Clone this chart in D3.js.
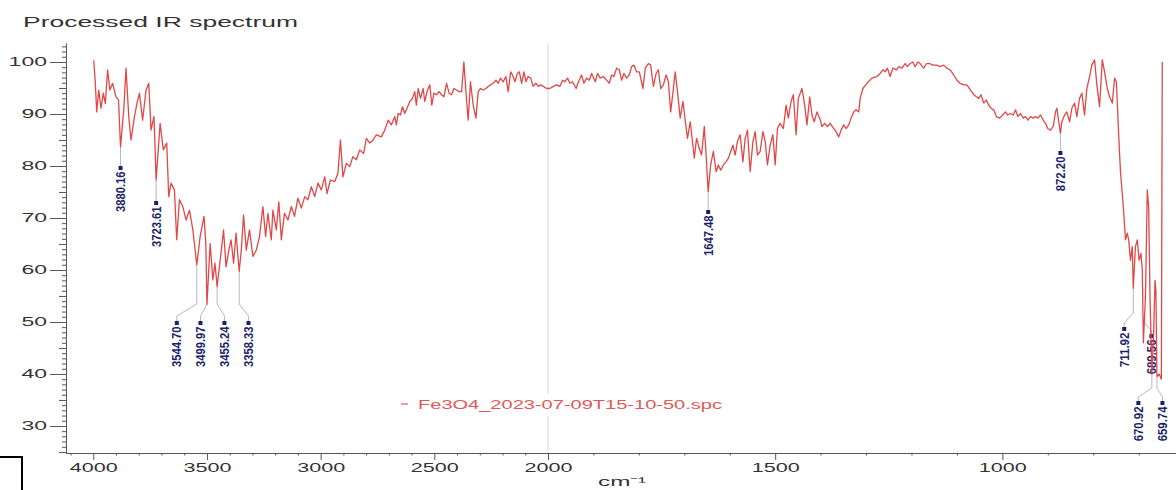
<!DOCTYPE html>
<html>
<head>
<meta charset="utf-8">
<script src="https://cdn.jsdelivr.net/npm/d3@7"></script>
<style>
    html, body { margin: 0; padding: 0; background: #fff; }
    svg { display: block; font-family: 'Liberation Sans', Arial, sans-serif; }
</style>
</head>
<body>
<div id="chart"></div>
<script>
// Spectrum: wavenumber (cm-1) and transmittance (%)
const wavenumbers = [
    // 4000 - 2700
    3998, 3991, 3985, 3976, 3966, 3956, 3947, 3937, 3927, 3915,
    3900, 3889, 3880.16, 3866, 3856, 3844, 3834, 3819, 3808, 3797,
    3783, 3768, 3756, 3746, 3733, 3723.61, 3706, 3692, 3677, 3668,
    3658, 3643, 3633, 3621, 3606, 3592, 3577, 3562, 3552, 3544.70,
    3530, 3513, 3505, 3499.97, 3486, 3474, 3465, 3455.24, 3440, 3427,
    3416, 3404, 3394, 3383, 3372, 3358.33, 3349, 3339, 3327, 3313,
    3298, 3283, 3269, 3254, 3242, 3232, 3217, 3210, 3195, 3184,
    3173, 3159, 3144, 3129, 3115, 3100, 3085, 3070, 3056, 3041,
    3026, 3012, 2997, 2982, 2972, 2957, 2938, 2924, 2913, 2902,
    2887, 2872, 2858, 2843, 2828, 2811, 2799, 2784, 2769, 2755,
    2733, 2718, 2703,
    // 2700 - 1490
    2689, 2674, 2667, 2659, 2649, 2640, 2630, 2620, 2608, 2596,
    2586, 2579, 2571, 2561, 2549, 2542, 2532, 2520, 2511, 2502,
    2490, 2479, 2468, 2458, 2446, 2435, 2424, 2414, 2402, 2391,
    2380, 2370, 2361, 2351, 2341, 2329, 2317, 2307, 2297, 2285,
    2273, 2263, 2253, 2241, 2229, 2219, 2209, 2197, 2185, 2175,
    2164, 2156, 2145, 2135, 2126, 2116, 2106, 2097, 2087, 2076,
    2065, 2053, 2043, 2032, 2021, 2006, 1996, 1988, 1981, 1974,
    1968, 1963, 1957, 1952, 1946, 1938, 1933, 1926, 1921, 1915,
    1909, 1904, 1896, 1891, 1885, 1878, 1871, 1865, 1860, 1855,
    1849, 1843, 1838, 1833, 1827, 1821, 1816, 1811, 1805, 1799,
    1791, 1786, 1779, 1774, 1768, 1762, 1757, 1752, 1746, 1740,
    1735, 1730, 1724, 1720, 1715, 1709, 1703, 1698, 1693, 1687,
    1682, 1678, 1673, 1667, 1662, 1656, 1652, 1647.48, 1642, 1636,
    1630, 1625, 1620, 1614, 1608, 1603, 1598, 1593, 1588, 1583,
    1577, 1571, 1566, 1561, 1555, 1549, 1544, 1539, 1533, 1527,
    1522, 1517, 1511, 1505, 1500, 1495, 1489,
    // 1490 - 648
    1485, 1482, 1476, 1471, 1465, 1460, 1454, 1449, 1441, 1435,
    1430, 1424, 1419, 1414, 1408, 1402, 1397, 1391, 1385, 1379,
    1371, 1366, 1360, 1355, 1349, 1344, 1338, 1333, 1327, 1322,
    1316, 1313, 1307, 1298, 1287, 1276, 1269, 1263, 1258, 1253,
    1247, 1241, 1233, 1228, 1221, 1214, 1209, 1203, 1197, 1192,
    1186, 1181, 1173, 1167, 1160, 1153, 1144, 1137, 1129, 1122,
    1115, 1107, 1100, 1093, 1085, 1078, 1070, 1063, 1057, 1052,
    1047, 1041, 1035, 1030, 1025, 1019, 1013, 1006, 999, 993,
    988, 982, 976, 971, 966, 960, 954, 949, 944, 938,
    932, 927, 922, 916, 910, 905, 900, 894, 888, 883,
    880, 872.20, 869, 863, 858, 852, 847, 841, 836, 830,
    825, 819, 814, 808, 803, 797, 792, 786, 780, 775,
    769, 764, 758, 753, 749, 744, 740, 734, 729, 725,
    722, 718, 714, 711.92, 707, 703, 699, 695, 692, 689.56,
    685, 681, 678, 675, 670.92, 667, 664, 662, 659.74, 655,
    650, 648
];
const transmittance = [
    100.3, 95.9, 90.4, 94.6, 91.1, 94.0, 92.0, 98.5, 94.6, 95.9,
    93.3, 92.7, 83.7, 90.8, 98.8, 89.5, 85.0, 89.5, 92.0, 94.0,
    88.8, 94.6, 95.9, 86.9, 89.5, 77.3, 88.2, 83.1, 84.4, 74.1,
    76.7, 75.4, 65.8, 73.5, 72.2, 69.6, 71.5, 67.7, 63.8, 61.0,
    66.4, 70.3, 65.1, 53.4, 65.1, 58.1, 61.3, 56.8, 62.6, 67.7,
    60.6, 63.8, 65.8, 61.3, 67.1, 59.7, 63.8, 70.6, 63.8, 67.7,
    62.6, 63.8, 66.4, 72.2, 66.4, 70.9, 65.8, 71.5, 67.7, 73.1,
    65.8, 70.9, 69.6, 72.2, 70.3, 73.8, 71.9, 74.1, 73.5, 76.0,
    74.1, 76.7, 75.4, 77.9, 74.7, 77.3, 77.0, 78.6, 85.0, 77.9,
    80.5, 79.9, 81.8, 81.2, 83.1, 82.4, 85.3, 84.4, 85.0, 86.0,
    85.6, 86.9, 88.8,
    87.9, 89.5, 87.9, 90.1, 89.8, 91.4, 90.1, 91.1, 92.4, 93.0,
    94.3, 91.7, 94.9, 93.0, 94.9, 92.4, 94.3, 95.6, 91.7, 94.0,
    93.7, 94.3, 93.7, 93.3, 95.9, 94.0, 93.7, 94.9, 94.6, 94.3,
    94.3, 100.0, 94.3, 88.8, 96.2, 91.7, 89.2, 94.3, 94.9, 94.6,
    94.9, 95.3, 95.6, 95.9, 96.5, 95.9, 96.9, 96.2, 97.2, 94.3,
    98.1, 97.5, 96.2, 97.8, 98.1, 95.9, 98.1, 96.2, 97.2, 96.9,
    95.3, 95.9, 95.3, 95.6, 95.3, 94.9, 94.9, 95.3, 95.6, 95.3,
    96.5, 96.2, 96.9, 95.9, 96.2, 94.9, 96.2, 97.5, 95.9, 96.9,
    96.5, 97.8, 96.2, 97.8, 96.9, 97.2, 96.5, 95.9, 97.5, 97.2,
    98.8, 98.5, 96.5, 97.8, 96.9, 97.5, 99.1, 99.4, 98.1, 98.1,
    94.9, 98.8, 99.7, 99.4, 95.3, 97.8, 98.5, 94.9, 95.6, 97.5,
    96.2, 90.4, 94.9, 98.1, 94.3, 89.2, 92.4, 88.8, 85.3, 88.5,
    84.7, 81.5, 85.3, 83.4, 82.1, 87.6, 82.1, 75.1, 80.2, 82.8,
    78.9, 80.2, 79.2, 80.2, 80.8, 81.5, 82.8, 84.0, 82.1, 84.7,
    86.0, 80.8, 85.3, 86.9, 78.9, 84.7, 86.6, 82.1, 82.8, 86.6,
    84.7, 80.2, 84.0, 86.0, 80.2, 87.2, 88.2,
    87.6, 87.2, 91.7, 89.2, 92.4, 93.7, 86.0, 93.0, 94.9, 91.7,
    87.9, 93.3, 89.8, 88.5, 90.4, 89.2, 87.6, 88.2, 87.6, 88.2,
    87.2, 86.6, 85.6, 86.9, 87.9, 87.2, 87.9, 89.2, 90.4, 90.8,
    90.4, 93.0, 94.9, 95.9, 96.9, 97.2, 97.8, 98.5, 98.1, 98.8,
    97.2, 98.8, 98.5, 99.1, 98.8, 99.7, 99.1, 99.7, 100.0, 99.1,
    100.0, 99.7, 98.8, 99.7, 99.7, 99.4, 99.4, 99.1, 99.4, 98.8,
    98.5, 97.5, 96.5, 95.9, 95.6, 95.6, 94.6, 93.7, 93.3, 93.0,
    93.7, 92.1, 92.7, 91.7, 91.1, 90.8, 89.5, 89.2, 89.8, 90.4,
    89.8, 90.1, 89.8, 90.8, 89.5, 90.1, 89.2, 89.5, 88.8, 89.5,
    89.2, 89.5, 89.2, 89.8, 88.8, 88.2, 87.2, 86.9, 87.6, 90.4,
    91.1, 86.3, 88.5, 89.8, 90.4, 88.5, 91.1, 92.1, 89.5, 93.0,
    94.0, 89.8, 94.9, 97.2, 99.4, 100.4, 95.6, 91.4, 100.4, 98.1,
    94.9, 93.3, 92.1, 96.9, 96.2, 86.0, 78.9, 72.5, 65.8, 67.1,
    65.8, 61.9, 64.5, 56.5, 64.5, 65.8, 61.9, 63.2, 60.0, 46.0,
    55.0, 75.4, 72.2, 55.0, 40.0, 48.0, 58.0, 56.0, 39.5, 40.0,
    39.0, 100.0
];
const peakWavenumbers = [3880.16, 3723.61, 3544.70, 3499.97, 3455.24, 3358.33,
    1647.48, 872.20, 711.92, 689.56, 670.92, 659.74];
const xTickValues = [4000, 3500, 3000, 2500, 2000, 1500, 1000];
const yTickValues = [30, 40, 50, 60, 70, 80, 90, 100];
const chartTitle = 'Processed IR spectrum';
const seriesName = 'Fe3O4_2023-07-09T15-10-50.spc';
const xAxisTitle = 'cm\u207B\u00B9';

// Where each peak label sits: shift from the peak, leader bend rows, top of label
const peakLabelLayout = [
    { dx: 0, elbow: 163, bend: 163, top: 166 },
    { dx: 0, elbow: 198, bend: 198, top: 201 },
    { dx: -20, elbow: 304, bend: 316, top: 321 },
    { dx: -6.5, elbow: 304, bend: 316, top: 321 },
    { dx: 7.3, elbow: 304, bend: 316, top: 321 },
    { dx: 9.3, elbow: 304, bend: 316, top: 321 },
    { dx: 0, elbow: 207, bend: 207, top: 210 },
    { dx: 0, elbow: 148, bend: 148, top: 151 },
    { dx: -9, elbow: 313, bend: 323, top: 327 },
    { dx: 8, elbow: 321, bend: 331, top: 334 },
    { dx: -13.5, elbow: 388, bend: 397, top: 401 },
    { dx: 5.5, elbow: 388, bend: 397, top: 401 }
];

const width = 1176;
const height = 490;

const svg = d3
    .select('#chart')
    .append('svg')
    .attr('width', width)
    .attr('height', height);

// Scales (axis is compressed 2x above 2000 cm-1)
const xScale = d3.scaleLinear().domain([4120, 2000, 620]).range([66, 548, 1175]);
const yScale = d3.scaleLinear().domain([24.8, 103.65]).range([453, 43]);

const spectrum = wavenumbers.map((wn, i) => ({ wn, t: transmittance[i] }));

// Title
svg.append('text')
    .attr('x', 23)
    .attr('y', 27)
    .attr('font-size', 14)
    .attr('fill', '#333')
    .attr('textLength', 275)
    .attr('lengthAdjust', 'spacingAndGlyphs')
    .text(chartTitle);

// Reference line at 2000
svg.append('line')
    .attr('x1', xScale(2000))
    .attr('x2', xScale(2000))
    .attr('y1', 43)
    .attr('y2', 453)
    .attr('stroke', '#d6d6d6')
    .attr('stroke-width', 1);

// Legend
svg.append('rect')
    .attr('x', 396)
    .attr('y', 394)
    .attr('width', 332)
    .attr('height', 22)
    .attr('fill', '#fff');
svg.append('line')
    .attr('x1', 401)
    .attr('x2', 408)
    .attr('y1', 404)
    .attr('y2', 404)
    .attr('stroke', '#e06060')
    .attr('stroke-width', 1.2);
svg.append('text')
    .attr('x', 418)
    .attr('y', 408.5)
    .attr('font-size', 12)
    .attr('fill', '#e05858')
    .attr('textLength', 304)
    .attr('lengthAdjust', 'spacingAndGlyphs')
    .text(seriesName);

// X axis: major, then minor ticks every 100
const xAxisG = svg.append('g').attr('transform', `translate(0, ${yScale.range()[0]})`);
xAxisG.call(
    d3.axisBottom(xScale)
        .tickValues(xTickValues)
        .tickFormat(d3.format('d'))
        .tickSize(7)
        .tickSizeOuter(0)
        .tickPadding(3)
);
const xMinor = d3.range(4100, 600, -100).filter((v) => !xTickValues.includes(v));
svg.append('g')
    .attr('transform', `translate(0, ${yScale.range()[0]})`)
    .call(d3.axisBottom(xScale).tickValues(xMinor).tickSize(2.5).tickFormat(''))
    .select('.domain')
    .remove();
xAxisG.select('.domain').attr('d', `M66,0.5H1176`);
xAxisG.selectAll('.tick text')
    .attr('font-size', 13)
    .attr('fill', '#333')
    .attr('font-family', "'Liberation Sans', Arial, sans-serif")
    .attr('textLength', 48)
    .attr('lengthAdjust', 'spacingAndGlyphs');

// Y axis: major, every 5, every 1
const yAxisG = svg.append('g').attr('transform', 'translate(66, 0)');
yAxisG.call(d3.axisLeft(yScale).tickValues(yTickValues).tickSize(16).tickSizeOuter(0).tickPadding(3));
const yMid = d3.range(25, 104, 5).filter((v) => v % 10 !== 0);
const yMinor = d3.range(25, 104, 1).filter((v) => v % 5 !== 0);
svg.append('g')
    .attr('transform', 'translate(66, 0)')
    .call(d3.axisLeft(yScale).tickValues(yMid).tickSize(7).tickFormat(''))
    .select('.domain')
    .remove();
svg.append('g')
    .attr('transform', 'translate(66, 0)')
    .call(d3.axisLeft(yScale).tickValues(yMinor).tickSize(4).tickFormat(''))
    .select('.domain')
    .remove();
yAxisG.selectAll('.tick text')
    .attr('font-size', 12)
    .attr('fill', '#333')
    .attr('font-family', "'Liberation Sans', Arial, sans-serif")
    .attr('textLength', (d) => String(d).length * 12.8)
    .attr('lengthAdjust', 'spacingAndGlyphs');

svg.selectAll('.domain, .tick line').attr('stroke', '#555');

// Axis title
svg.append('text')
    .attr('x', 622)
    .attr('y', 486)
    .attr('text-anchor', 'middle')
    .attr('font-size', 13)
    .attr('fill', '#333')
    .attr('textLength', 48)
    .attr('lengthAdjust', 'spacingAndGlyphs')
    .text(xAxisTitle);

// Peak labels and leaders
const leader = d3.line();
const peaks = peakWavenumbers.map((wn, i) => {
    const idx = wavenumbers.indexOf(wn);
    const px = xScale(wn);
    const py = yScale(transmittance[idx]);
    const lay = peakLabelLayout[i];
    return { wn, px, py, lx: px + lay.dx, ...lay };
});

svg.append('g')
    .selectAll('path')
    .data(peaks)
    .join('path')
    .attr('d', (d) => leader([[d.px, d.py], [d.px, d.elbow], [d.lx, d.bend], [d.lx, d.top]]))
    .attr('fill', 'none')
    .attr('stroke', '#b4b8c6')
    .attr('stroke-width', 1);

const labelG = svg.append('g')
    .selectAll('g')
    .data(peaks)
    .join('g')
    .attr('transform', (d) => `translate(${d.lx}, ${d.top})`);
labelG.append('rect')
    .attr('x', -2)
    .attr('y', 0)
    .attr('width', 4)
    .attr('height', 4)
    .attr('fill', '#1c1f6b');
labelG.append('text')
    .attr('transform', 'rotate(-90)')
    .attr('x', -5.5)
    .attr('y', 0)
    .attr('dy', '0.36em')
    .attr('text-anchor', 'end')
    .attr('font-family', "'Liberation Sans Narrow', 'Arial Narrow', 'Liberation Sans', sans-serif")
    .attr('font-weight', 'bold')
    .attr('font-size', 12.5)
    .attr('fill', '#1c1f6b')
    .attr('textLength', (d) => d.wn.toFixed(2).length * 5.8)
    .attr('lengthAdjust', 'spacingAndGlyphs')
    .text((d) => d.wn.toFixed(2));

// Spectrum line
svg.append('path')
    .datum(spectrum)
    .attr('fill', 'none')
    .attr('stroke', '#e04848')
    .attr('stroke-width', 1.3)
    .attr('stroke-linejoin', 'round')
    .attr('d', d3.line().x((d) => xScale(d.wn)).y((d) => yScale(d.t)));

// Corner box bottom-left
svg.append('path')
    .attr('d', 'M0,457H22V490')
    .attr('fill', 'none')
    .attr('stroke', '#000')
    .attr('stroke-width', 2);
</script>
</body>
</html>
